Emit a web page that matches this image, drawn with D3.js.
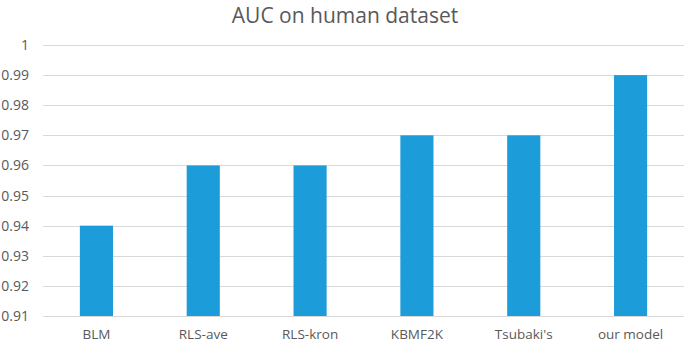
<!DOCTYPE html>
<html lang="en">
<head>
    <meta charset="UTF-8">
    <title>AUC on human dataset</title>
    <style>
        body { margin: 0; background: #fff; }
        text { font-family: "Open Sans", "Noto Sans", sans-serif; fill: #595959; }
    </style>
    <script type="text/javascript" src="https://d3js.org/d3.v7.min.js"></script>
</head>
<body>
    <script type="text/javascript">

       var categories = ["BLM", "RLS-ave", "RLS-kron", "KBMF2K", "Tsubaki's", "our model"];
       var auc = [0.94, 0.96, 0.96, 0.97, 0.97, 0.99];
       var yTicks = [0.91, 0.92, 0.93, 0.94, 0.95, 0.96, 0.97, 0.98, 0.99, 1];

       var width = 685, height = 343;
       var plotLeft = 43, plotRight = 684, plotTop = 45, plotBottom = 316;

       var svg = d3.select("body")
                   .append("svg")
                   .attr("width", width)
                   .attr("height", height);

       var xScale = d3.scaleBand()
                      .domain(categories)
                      .range([plotLeft, plotRight])
                      .paddingInner(0.69)
                      .paddingOuter(0.345);
       var yScale = d3.scaleLinear()
                      .domain([0.91, 1])
                      .range([plotBottom, plotTop]);

       // gridlines
       svg.append("g")
          .selectAll("line")
          .data(yTicks)
          .enter()
          .append("line")
          .attr("x1", plotLeft)
          .attr("x2", plotRight)
          .attr("y1", function(d){ return Math.round(yScale(d)) + 0.5; })
          .attr("y2", function(d){ return Math.round(yScale(d)) + 0.5; })
          .attr("stroke", "#d9d9d9")
          .attr("stroke-width", 1);

       // bars
       svg.append("g")
          .selectAll("rect")
          .data(auc)
          .enter()
          .append("rect")
          .attr("x", function(d, i){ return xScale(categories[i]); })
          .attr("width", xScale.bandwidth())
          .attr("y", function(d){ return yScale(d); })
          .attr("height", function(d){ return plotBottom - yScale(d); })
          .attr("fill", "#1c9cd8");

       // y tick labels
       var yAxis = d3.axisLeft(yScale)
                     .tickValues(yTicks)
                     .tickSize(0)
                     .tickPadding(0)
                     .tickFormat(function(d){ return String(+d.toFixed(2)); });
       var yAxisGroup = svg.append("g")
                           .attr("transform", "translate(29,0)")
                           .call(yAxis);
       yAxisGroup.select(".domain").remove();
       yAxisGroup.selectAll("text")
                 .style("font-size", "14px")
                 .attr("fill", "#595959");

       // x labels
       var xAxis = d3.axisBottom(xScale).tickSize(0).tickPadding(0);
       var xAxisGroup = svg.append("g")
                           .attr("transform", "translate(0," + 329 + ")")
                           .call(xAxis);
       xAxisGroup.select(".domain").remove();
       xAxisGroup.selectAll("text")
                 .style("font-size", "13.5px")
                 .attr("dy", "0.71em")
                 .attr("y", 0)
                 .attr("fill", "#595959");

       svg.append("text")
          .attr("x", 345)
          .attr("y", 23)
          .attr("text-anchor", "middle")
          .style("font-size", "21px")
          .text("AUC on human dataset");

    </script>
</body>
</html>
